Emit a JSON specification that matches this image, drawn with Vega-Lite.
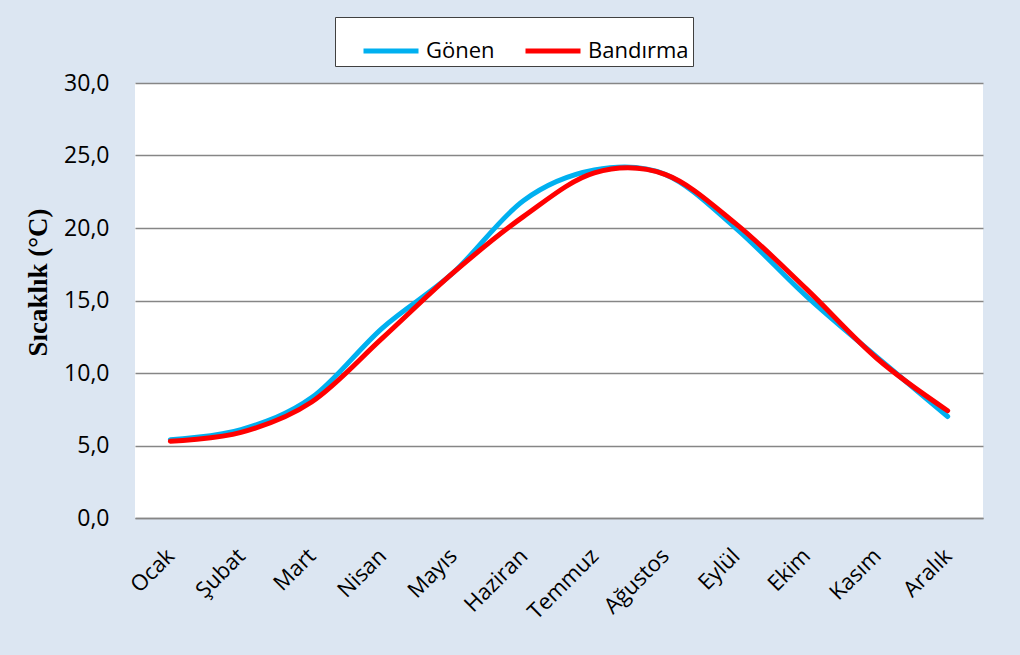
{
  "$schema": "https://vega.github.io/schema/vega-lite/v6.json",
  "width": 848,
  "height": 435,
  "autosize": "none",
  "padding": {"left": 135, "top": 83, "right": 37, "bottom": 137},
  "background": "#dce6f2",
  "config": {
    "view": {"fill": "white", "stroke": null},
    "font": "Open Sans"
  },
  "data": {
    "values": [
      {"ay": "Ocak", "istasyon": "Gönen", "t": 5.4},
      {"ay": "Şubat", "istasyon": "Gönen", "t": 6.1},
      {"ay": "Mart", "istasyon": "Gönen", "t": 8.3},
      {"ay": "Nisan", "istasyon": "Gönen", "t": 13.1},
      {"ay": "Mayıs", "istasyon": "Gönen", "t": 16.9},
      {"ay": "Haziran", "istasyon": "Gönen", "t": 21.9},
      {"ay": "Temmuz", "istasyon": "Gönen", "t": 24.0},
      {"ay": "Ağustos", "istasyon": "Gönen", "t": 23.7},
      {"ay": "Eylül", "istasyon": "Gönen", "t": 20.0},
      {"ay": "Ekim", "istasyon": "Gönen", "t": 15.3},
      {"ay": "Kasım", "istasyon": "Gönen", "t": 11.1},
      {"ay": "Aralık", "istasyon": "Gönen", "t": 7.0},
      {"ay": "Ocak", "istasyon": "Bandırma", "t": 5.3},
      {"ay": "Şubat", "istasyon": "Bandırma", "t": 5.9},
      {"ay": "Mart", "istasyon": "Bandırma", "t": 8.0},
      {"ay": "Nisan", "istasyon": "Bandırma", "t": 12.4},
      {"ay": "Mayıs", "istasyon": "Bandırma", "t": 16.9},
      {"ay": "Haziran", "istasyon": "Bandırma", "t": 20.8},
      {"ay": "Temmuz", "istasyon": "Bandırma", "t": 23.8},
      {"ay": "Ağustos", "istasyon": "Bandırma", "t": 23.7},
      {"ay": "Eylül", "istasyon": "Bandırma", "t": 20.3},
      {"ay": "Ekim", "istasyon": "Bandırma", "t": 15.8},
      {"ay": "Kasım", "istasyon": "Bandırma", "t": 11.0},
      {"ay": "Aralık", "istasyon": "Bandırma", "t": 7.4}
    ]
  },
  "mark": {"type": "line", "interpolate": "cardinal", "tension": 0, "strokeWidth": 5, "strokeCap": "round"},
  "encoding": {
    "x": {
      "field": "ay",
      "type": "ordinal",
      "sort": ["Ocak", "Şubat", "Mart", "Nisan", "Mayıs", "Haziran", "Temmuz", "Ağustos", "Eylül", "Ekim", "Kasım", "Aralık"],
      "scale": {"paddingInner": 0, "paddingOuter": 0.5},
      "axis": {
        "title": null,
        "labelAngle": -45,
        "labelAlign": "right",
        "labelBaseline": "middle",
        "labelFontSize": 22,
        "labelColor": "#000000",
        "labelPadding": 34,
        "ticks": false,
        "domainColor": "#868686",
        "domainWidth": 1.5,
        "grid": false
      }
    },
    "y": {
      "field": "t",
      "type": "quantitative",
      "scale": {"domain": [0, 30], "nice": false},
      "axis": {
        "values": [0, 5, 10, 15, 20, 25, 30],
        "labelExpr": "replace(format(datum.value, '.1f'), '.', ',')",
        "labelFontSize": 23,
        "labelColor": "#000000",
        "labelPadding": 26,
        "ticks": false,
        "domain": false,
        "grid": true,
        "gridColor": "#868686",
        "gridWidth": 1.5,
        "title": "Sıcaklık (°C)",
        "titleFont": "Liberation Serif",
        "titleFontWeight": "bold",
        "titleFontSize": 27,
        "titleColor": "#000000",
        "titleAngle": -90,
        "titleX": -97,
        "titleY": 199,
        "titleAlign": "center",
        "titleBaseline": "middle"
      }
    },
    "color": {
      "field": "istasyon",
      "type": "nominal",
      "scale": {"domain": ["Gönen", "Bandırma"], "range": ["#00b0f0", "#ff0000"]},
      "legend": {
        "title": null,
        "orient": "none",
        "direction": "horizontal",
        "legendX": 200,
        "legendY": -66,
        "symbolType": "stroke",
        "symbolSize": 3025,
        "symbolStrokeWidth": 5,
        "symbolOffset": 22,
        "labelFontSize": 22,
        "labelColor": "#000000",
        "labelOffset": 5,
        "columnPadding": 6,
        "padding": 4,
        "fillColor": "white",
        "strokeColor": "#404040"
      }
    }
  }
}
